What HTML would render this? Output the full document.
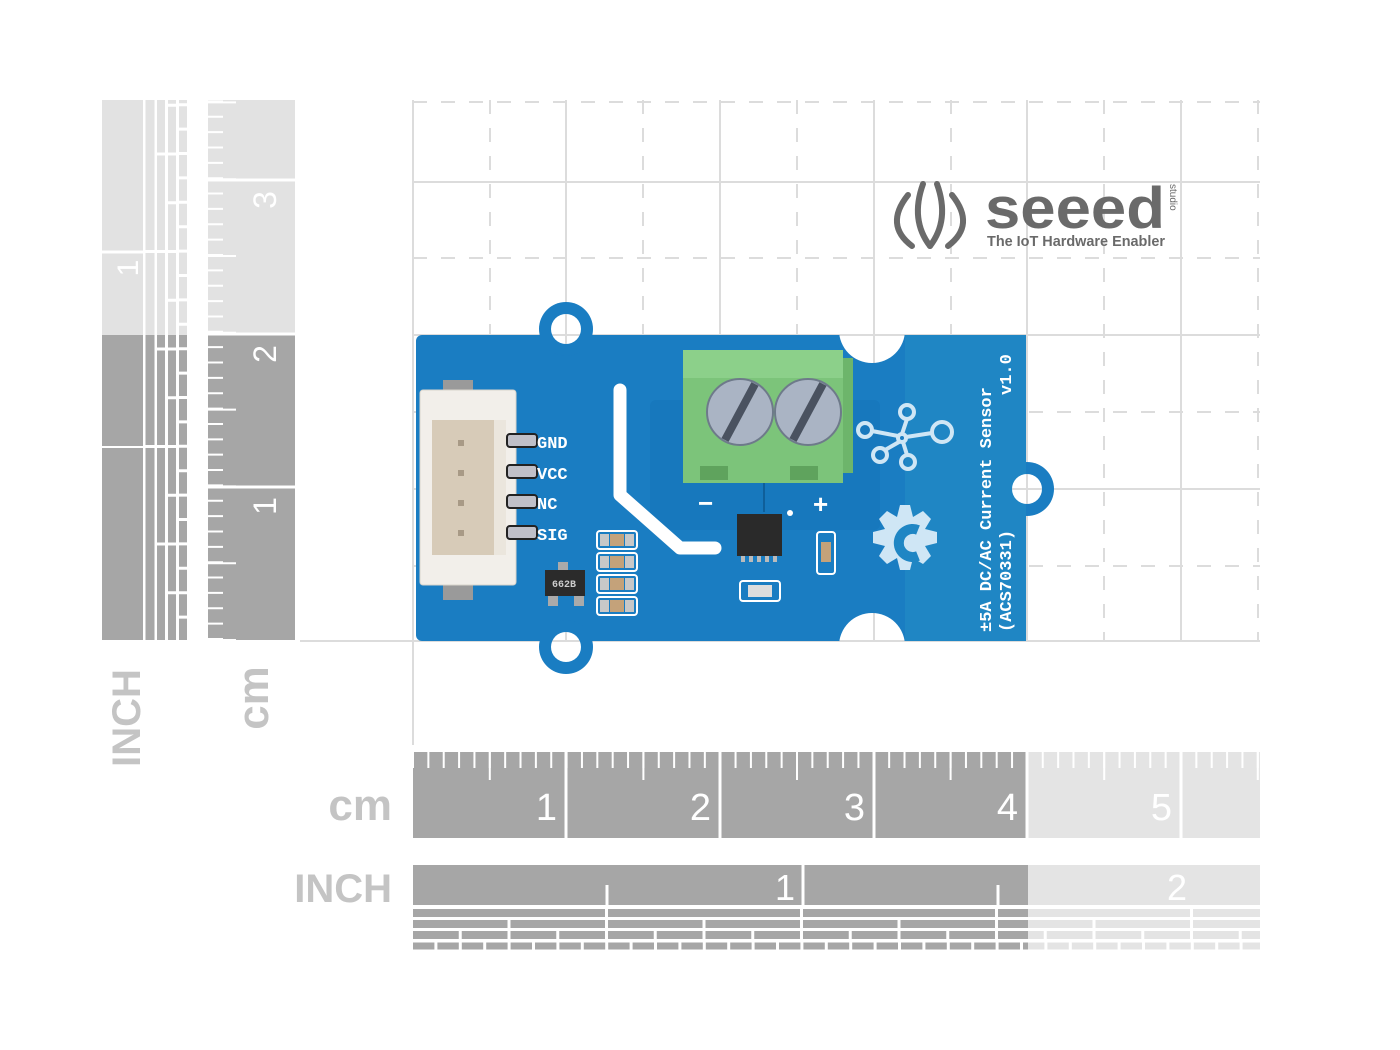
<!DOCTYPE html>
<html><head><meta charset="utf-8"><style>
html,body{margin:0;padding:0;background:#fff;width:1400px;height:1050px;overflow:hidden}
svg{display:block}
text{font-family:"Liberation Sans",sans-serif}
.m{font-family:"Liberation Mono",monospace;font-weight:bold}
</style></head><body>
<svg width="1400" height="1050" viewBox="0 0 1400 1050" xmlns="http://www.w3.org/2000/svg">
<!-- grid -->
<g stroke="#dcdcdc" stroke-width="2" fill="none">
<line x1="413" y1="100" x2="413" y2="745"/>
<line x1="566" y1="100" x2="566" y2="640"/>
<line x1="720" y1="100" x2="720" y2="640"/>
<line x1="874" y1="100" x2="874" y2="640"/>
<line x1="1027" y1="100" x2="1027" y2="640"/>
<line x1="1181" y1="100" x2="1181" y2="640"/>
<line x1="413" y1="182" x2="1260" y2="182"/>
<line x1="413" y1="335" x2="1260" y2="335"/>
<line x1="413" y1="489" x2="1260" y2="489"/>
<line x1="300" y1="641" x2="1260" y2="641"/>
</g>
<g stroke="#dcdcdc" stroke-width="2" fill="none" stroke-dasharray="14 14">
<line x1="490" y1="100" x2="490" y2="640"/>
<line x1="643" y1="100" x2="643" y2="640"/>
<line x1="797" y1="100" x2="797" y2="640"/>
<line x1="951" y1="100" x2="951" y2="640"/>
<line x1="1104" y1="100" x2="1104" y2="640"/>
<line x1="1258" y1="100" x2="1258" y2="640"/>
<line x1="413" y1="102" x2="1260" y2="102"/>
<line x1="413" y1="258" x2="1260" y2="258"/>
<line x1="413" y1="412" x2="1260" y2="412"/>
<line x1="413" y1="566" x2="1260" y2="566"/>
</g>

<!-- left INCH ruler -->
<g>
<rect x="102" y="100" width="41" height="540" fill="#a6a6a6"/>
<line x1="102" y1="252" x2="143" y2="252" stroke="#fff" stroke-width="3"/>
<line x1="102" y1="447" x2="143" y2="447" stroke="#fff" stroke-width="2"/>
<line x1="150" y1="640" x2="150" y2="100" stroke="#a6a6a6" stroke-width="9" stroke-dasharray="192 3"/>
<line x1="161" y1="640" x2="161" y2="100" stroke="#a6a6a6" stroke-width="8" stroke-dasharray="94.5 3"/>
<line x1="172" y1="640" x2="172" y2="100" stroke="#a6a6a6" stroke-width="8" stroke-dasharray="45.75 3"/>
<line x1="183" y1="640" x2="183" y2="100" stroke="#a6a6a6" stroke-width="8" stroke-dasharray="21.4 3"/>
<rect x="100" y="100" width="92" height="235" fill="#fff" opacity="0.68"/>
<text transform="translate(138,268) rotate(-90)" font-size="30" fill="#fff" text-anchor="middle">1</text>
</g>

<!-- left cm ruler -->
<g>
<rect x="208" y="100" width="87" height="540" fill="#a6a6a6"/>
<line x1="208" y1="640" x2="208" y2="100" stroke="#fff" stroke-width="15" stroke-dasharray="2 13.36" transform="translate(7.5,0)"/>
<line x1="208" y1="640" x2="208" y2="100" stroke="#fff" stroke-width="28" stroke-dasharray="2 74.8" stroke-dashoffset="-75.8" transform="translate(14,0)"/>
<line x1="208" y1="487" x2="295" y2="487" stroke="#fff" stroke-width="3"/>
<line x1="208" y1="334" x2="295" y2="334" stroke="#fff" stroke-width="3"/>
<line x1="208" y1="180" x2="295" y2="180" stroke="#fff" stroke-width="3"/>
<rect x="205" y="100" width="92" height="233" fill="#fff" opacity="0.68"/>
<text transform="translate(276,506) rotate(-90)" font-size="32" fill="#fff" text-anchor="middle">1</text>
<text transform="translate(276,354) rotate(-90)" font-size="32" fill="#fff" text-anchor="middle">2</text>
<text transform="translate(276,200) rotate(-90)" font-size="32" fill="#fff" text-anchor="middle">3</text>
</g>
<text transform="translate(140,718) rotate(-90)" font-size="40" font-weight="bold" fill="#c4c4c4" text-anchor="middle">INCH</text>
<text transform="translate(268,698) rotate(-90)" font-size="44" font-weight="bold" fill="#c4c4c4" text-anchor="middle">cm</text>

<!-- bottom cm ruler -->
<g>
<rect x="413" y="752" width="847" height="86" fill="#a6a6a6"/>
<line x1="413" y1="760" x2="1260" y2="760" stroke="#fff" stroke-width="16" stroke-dasharray="2 13.36" stroke-dashoffset="-14.36"/>
<line x1="413" y1="766" x2="1260" y2="766" stroke="#fff" stroke-width="28" stroke-dasharray="2 151.6" stroke-dashoffset="-75.8"/>
<g stroke="#fff" stroke-width="3">
<line x1="566" y1="752" x2="566" y2="838"/><line x1="720" y1="752" x2="720" y2="838"/>
<line x1="874" y1="752" x2="874" y2="838"/><line x1="1027" y1="752" x2="1027" y2="838"/>
<line x1="1181" y1="752" x2="1181" y2="838"/>
</g>
<g font-size="38" fill="#fff" text-anchor="end">
<text x="557" y="820">1</text><text x="711" y="820">2</text><text x="865" y="820">3</text>
<text x="1018" y="820">4</text><text x="1172" y="820">5</text>
</g>
</g>
<text x="392" y="820" font-size="44" font-weight="bold" fill="#c4c4c4" text-anchor="end">cm</text>

<!-- bottom INCH ruler -->
<g>
<rect x="413" y="865" width="847" height="40" fill="#a6a6a6"/>
<line x1="607" y1="885" x2="607" y2="905" stroke="#fff" stroke-width="3"/>
<line x1="998" y1="885" x2="998" y2="905" stroke="#fff" stroke-width="3"/>
<line x1="803" y1="865" x2="803" y2="905" stroke="#fff" stroke-width="3"/>
<line x1="413" y1="913" x2="1260" y2="913" stroke="#a6a6a6" stroke-width="8" stroke-dasharray="192 3"/>
<line x1="413" y1="924" x2="1260" y2="924" stroke="#a6a6a6" stroke-width="8" stroke-dasharray="94.5 3"/>
<line x1="413" y1="935" x2="1260" y2="935" stroke="#a6a6a6" stroke-width="8" stroke-dasharray="45.75 3"/>
<line x1="413" y1="946" x2="1260" y2="946" stroke="#a6a6a6" stroke-width="7" stroke-dasharray="21.4 3"/>
<text x="795" y="900" font-size="36" fill="#fff" text-anchor="end">1</text>
<text x="1187" y="900" font-size="36" fill="#fff" text-anchor="end">2</text>
</g>
<text x="392" y="902" font-size="40" font-weight="bold" fill="#c4c4c4" text-anchor="end">INCH</text>
<rect x="1028" y="750" width="234" height="205" fill="#fff" opacity="0.7"/>

<!-- seeed logo -->
<g fill="none" stroke="#6a6a6a" stroke-width="6" stroke-linecap="round">
<path d="M908 195 Q884 225 912 246"/>
<path d="M952 195 Q976 225 948 246"/>
<path d="M923 184 Q910 220 930 246"/>
<path d="M937 184 Q950 220 930 246"/>
</g>
<text x="985" y="228" font-size="58" font-weight="bold" fill="#6a6a6a" textLength="180" lengthAdjust="spacingAndGlyphs">seeed</text>
<text transform="translate(1170,184) rotate(90)" font-size="10" fill="#6a6a6a">studio</text>
<text x="987" y="246" font-size="14.5" font-weight="bold" fill="#6a6a6a" textLength="178" lengthAdjust="spacingAndGlyphs">The IoT Hardware Enabler</text>

<!-- board -->
<defs>
<mask id="bm">
<rect x="0" y="0" width="1400" height="1050" fill="#fff"/>
<circle cx="566" cy="329" r="15" fill="#000"/>
<circle cx="566" cy="647" r="15" fill="#000"/>
<circle cx="1027" cy="489" r="15" fill="#000"/>
<circle cx="872" cy="330" r="33" fill="#000"/>
<circle cx="872" cy="646" r="33" fill="#000"/>
</mask>
</defs>
<g mask="url(#bm)">
<rect x="416" y="335" width="610" height="306" rx="6" fill="#1a7dc2"/>
<circle cx="566" cy="329" r="27" fill="#1a7dc2"/>
<circle cx="566" cy="647" r="27" fill="#1a7dc2"/>
<circle cx="1027" cy="489" r="27" fill="#1a7dc2"/>
<rect x="905" y="335" width="121" height="306" fill="#1f86c4"/>
</g>
<rect x="650" y="400" width="230" height="130" rx="6" fill="#1778bd"/>
<path d="M620 390 L620 495 L680 548 L715 548" fill="none" stroke="#fff" stroke-width="13" stroke-linecap="round" stroke-linejoin="round"/>
<!-- connector -->
<rect x="443" y="380" width="30" height="220" fill="#9a9a9a"/>
<rect x="420" y="390" width="96" height="195" rx="3" fill="#f2efea" stroke="#d8d4cc"/>
<rect x="432" y="420" width="62" height="135" fill="#d7cbb8"/>
<rect x="494" y="420" width="12" height="135" fill="#ebe6dd"/>
<g fill="#a89a86"><rect x="458" y="440" width="6" height="6"/><rect x="458" y="470" width="6" height="6"/><rect x="458" y="500" width="6" height="6"/><rect x="458" y="530" width="6" height="6"/></g>
<g fill="#c0c0c8" stroke="#222" stroke-width="2">
<rect x="507" y="434" width="30" height="13" rx="3"/><rect x="507" y="465" width="30" height="13" rx="3"/>
<rect x="507" y="495" width="30" height="13" rx="3"/><rect x="507" y="526" width="30" height="13" rx="3"/>
</g>
<g font-size="17" fill="#fff">
<text x="537" y="448" class="m">GND</text><text x="537" y="479" class="m">VCC</text>
<text x="537" y="509" class="m">NC</text><text x="537" y="540" class="m">SIG</text>
</g>
<g stroke="#fff" stroke-width="2" fill="none">
<rect x="597" y="531" width="40" height="18" rx="3"/><rect x="597" y="553" width="40" height="18" rx="3"/>
<rect x="597" y="575" width="40" height="18" rx="3"/><rect x="597" y="597" width="40" height="18" rx="3"/>
</g>
<g fill="#c4a27a"><rect x="610" y="534" width="14" height="12"/><rect x="610" y="556" width="14" height="12"/><rect x="610" y="578" width="14" height="12"/><rect x="610" y="600" width="14" height="12"/></g>
<g fill="#c8c8c8"><rect x="600" y="534" width="9" height="12"/><rect x="625" y="534" width="9" height="12"/><rect x="600" y="556" width="9" height="12"/><rect x="625" y="556" width="9" height="12"/><rect x="600" y="578" width="9" height="12"/><rect x="625" y="578" width="9" height="12"/><rect x="600" y="600" width="9" height="12"/><rect x="625" y="600" width="9" height="12"/></g>
<rect x="545" y="570" width="40" height="26" fill="#2b2b2b"/>
<rect x="558" y="562" width="10" height="8" fill="#aaa"/><rect x="548" y="596" width="10" height="10" fill="#aaa"/><rect x="574" y="596" width="10" height="10" fill="#aaa"/>
<text x="552" y="587" font-size="10" fill="#ccc" class="m">662B</text>
<!-- terminal block -->
<rect x="683" y="350" width="160" height="133" fill="#7cc47a"/>
<rect x="843" y="358" width="10" height="115" fill="#6db56b"/>
<rect x="683" y="350" width="160" height="28" fill="#8cd08a"/>
<rect x="700" y="466" width="28" height="14" fill="#5fa35d"/><rect x="790" y="466" width="28" height="14" fill="#5fa35d"/>
<circle cx="740" cy="412" r="33" fill="#aab4c4" stroke="#6e7a8a" stroke-width="2"/>
<circle cx="808" cy="412" r="33" fill="#aab4c4" stroke="#6e7a8a" stroke-width="2"/>
<line x1="725" y1="440" x2="755" y2="384" stroke="#4a5260" stroke-width="8"/>
<line x1="793" y1="440" x2="823" y2="384" stroke="#4a5260" stroke-width="8"/>
<text x="698" y="512" font-size="26" font-weight="bold" fill="#fff">−</text>
<text x="813" y="513" font-size="26" font-weight="bold" fill="#fff">+</text>
<line x1="764" y1="483" x2="764" y2="512" stroke="#0f5f9a" stroke-width="2"/>
<rect x="737" y="514" width="45" height="42" fill="#2a2a2a"/>
<g fill="#bbb"><rect x="741" y="556" width="4" height="6"/><rect x="749" y="556" width="4" height="6"/><rect x="757" y="556" width="4" height="6"/><rect x="765" y="556" width="4" height="6"/><rect x="773" y="556" width="4" height="6"/></g>
<circle cx="790" cy="513" r="3" fill="#fff"/>
<rect x="817" y="532" width="18" height="42" rx="3" fill="none" stroke="#fff" stroke-width="2"/>
<rect x="821" y="542" width="10" height="20" fill="#c4a27a"/>
<rect x="740" y="581" width="40" height="20" rx="3" fill="none" stroke="#fff" stroke-width="2"/>
<rect x="748" y="585" width="24" height="12" fill="#ddd"/>
<!-- grove logos -->
<g fill="none" stroke="#cfe6f5" stroke-width="4">
<circle cx="907" cy="412" r="7"/><circle cx="865" cy="430" r="7"/><circle cx="880" cy="455" r="7"/>
<circle cx="908" cy="462" r="7"/><circle cx="942" cy="432" r="10"/><circle cx="902" cy="438" r="4"/>
<path d="M902 434 L907 419 M898 436 L872 431 M899 442 L885 450 M903 442 L907 455 M906 437 L932 433"/>
</g>
<path fill="#cfe6f5" d="M900 505 l10 0 l3 12 l10 -6 l8 8 l-6 10 l12 3 l0 11 l-12 3 l6 10 l-8 8 l-10 -6 l-3 12 l-10 0 l-3 -12 l-10 6 l-8 -8 l6 -10 l-12 -3 l0 -11 l12 -3 l-6 -10 l8 -8 l10 6 z"/>
<path d="M918 530 A14 14 0 1 0 918 556" fill="none" stroke="#1f86c4" stroke-width="10"/>
<text transform="translate(991,632) rotate(-90)" font-size="17" fill="#fff" class="m">±5A DC/AC Current Sensor</text>
<text transform="translate(1011,632) rotate(-90)" font-size="17" fill="#fff" class="m">(ACS70331)</text>
<text transform="translate(1011,395) rotate(-90)" font-size="17" fill="#fff" class="m">v1.0</text>
</svg>
</body></html>
